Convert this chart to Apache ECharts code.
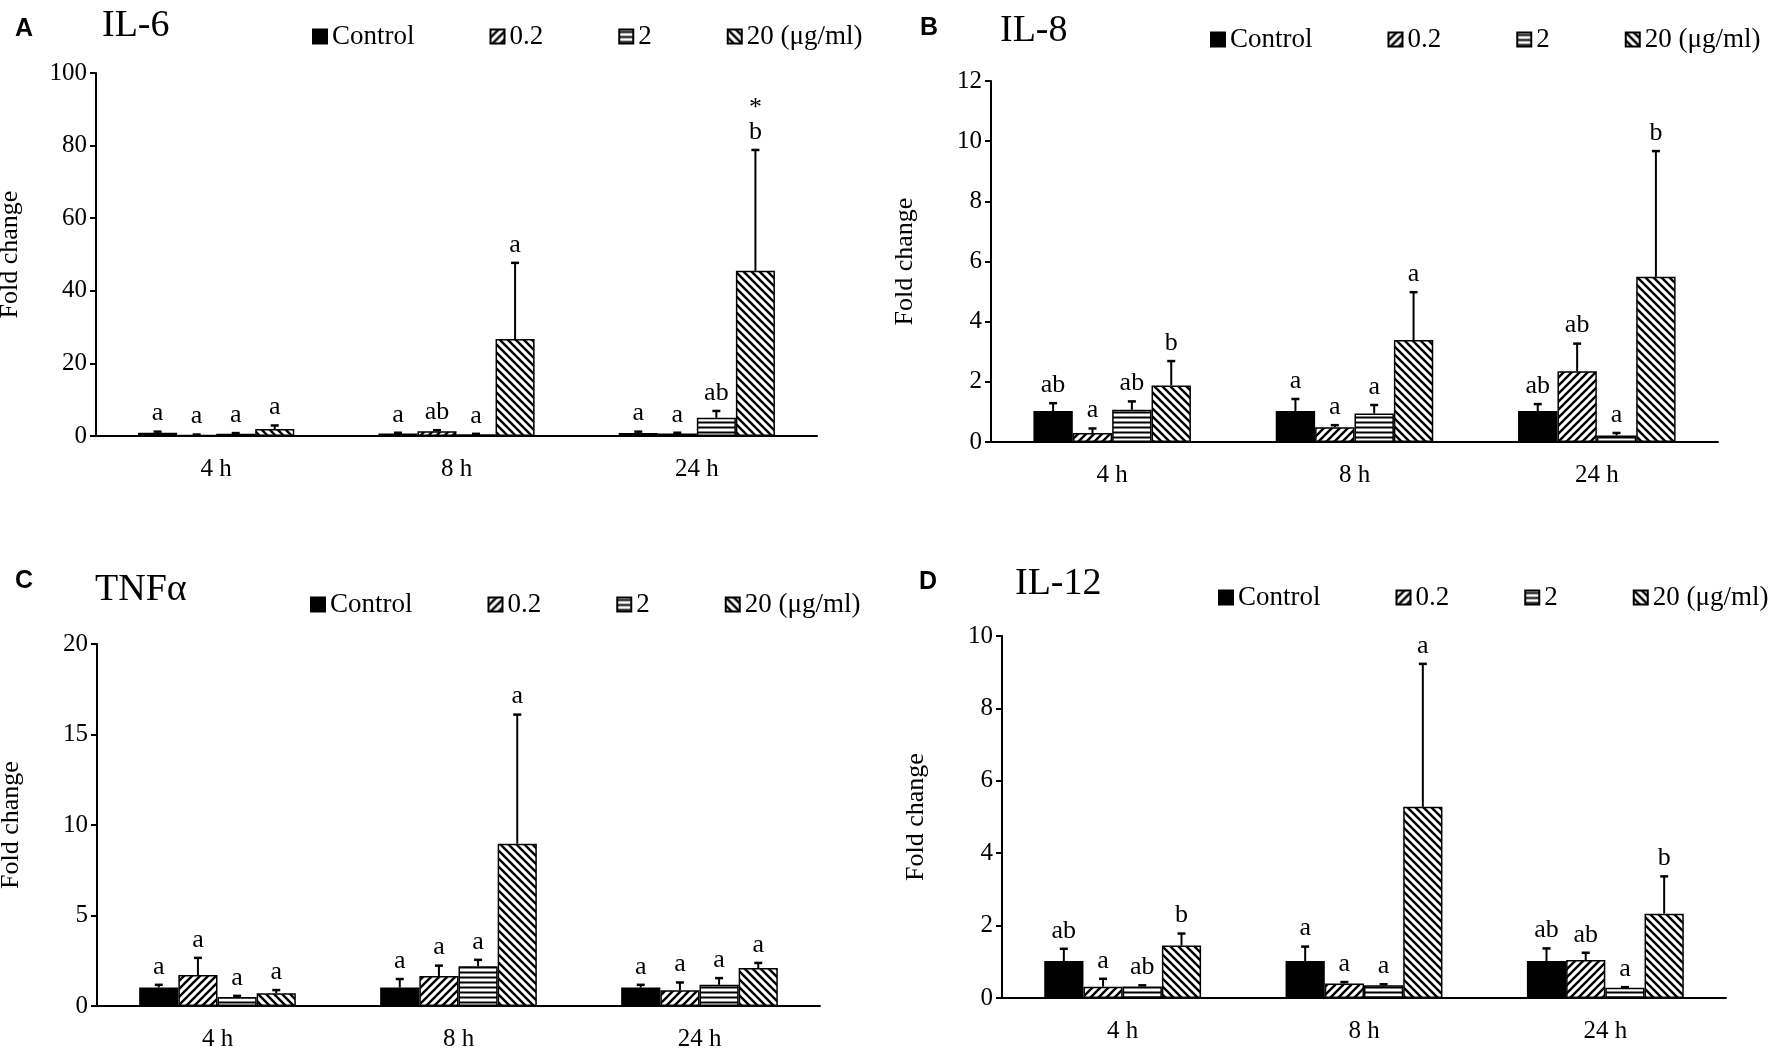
<!DOCTYPE html>
<html>
<head>
<meta charset="utf-8">
<script src="https://cdn.jsdelivr.net/npm/echarts@6/dist/echarts.min.js"></script>
<style>
  html, body { margin: 0; padding: 0; background: #fff; }
  #main { width: 1772px; height: 1052px; }
</style>
</head>
<body>
<div id="main"></div>
<script>
// categories and groups
const hours = ["4 h", "8 h", "24 h"];
const groups = ["Control", "0.2", "2", "20 (μg/ml)"];

// IL-6 : rows = Control, 0.2, 2, 20 ; cols = 4 h, 8 h, 24 h
const il6Means = [[0.9, 0.7, 0.8], [0.3, 1.3, 0.7], [0.6, 0.5, 5.0], [1.9, 26.7, 45.5]];
const il6Sds = [[0.3, 0.2, 0.4], [0.1, 0.3, 0.2], [0.2, 0.1, 1.9], [1.0, 21.0, 33.3]];
const il6Letters = [["a", "a", "a"], ["a", "ab", "a"], ["a", "a", "ab"], ["a", "a", "*\nb"]];

// IL-8
const il8Means = [[1.03, 1.03, 1.03], [0.30, 0.49, 2.35], [1.07, 0.95, 0.22], [1.88, 3.39, 5.49]];
const il8Sds = [[0.26, 0.40, 0.23], [0.15, 0.07, 0.92], [0.28, 0.28, 0.08], [0.81, 1.59, 4.18]];
const il8Letters = [["ab", "a", "ab"], ["a", "a", "ab"], ["ab", "a", "a"], ["b", "a", "b"]];

// TNFα
const tnfMeans = [[1.02, 1.02, 1.02], [1.71, 1.66, 0.87], [0.50, 2.20, 1.17], [0.71, 8.97, 2.10]];
const tnfSds = [[0.15, 0.47, 0.15], [0.95, 0.57, 0.43], [0.06, 0.35, 0.37], [0.17, 7.13, 0.28]];
const tnfLetters = [["a", "a", "a"], ["a", "a", "a"], ["a", "a", "a"], ["a", "a", "a"]];

// IL-12
const il12Means = [[1.02, 1.02, 1.02], [0.31, 0.40, 1.05], [0.32, 0.35, 0.28], [1.45, 5.28, 2.33]];
const il12Sds = [[0.34, 0.40, 0.35], [0.22, 0.04, 0.20], [0.03, 0.03, 0.02], [0.33, 3.95, 1.03]];
const il12Letters = [["ab", "a", "ab"], ["a", "a", "ab"], ["ab", "a", "a"], ["b", "a", "b"]];

const SERIF = '"Liberation Serif", "Times New Roman", serif';
const CAT_GAP = 0.35;

// hatch fills
function makePattern(kind) {
  const s = kind === "h" ? 5 : 8;
  const c = document.createElement("canvas");
  c.width = s;
  c.height = s;
  const g = c.getContext("2d");
  g.fillStyle = "#fff";
  g.fillRect(0, 0, s, s);
  g.strokeStyle = "#000";
  g.lineWidth = kind === "h" ? 2 : 2.4;
  g.beginPath();
  if (kind === "h") {
    g.moveTo(0, s / 2);
    g.lineTo(s, s / 2);
  } else if (kind === "f") {
    g.moveTo(0, s); g.lineTo(s, 0);
    g.moveTo(-2, 2); g.lineTo(2, -2);
    g.moveTo(s - 2, s + 2); g.lineTo(s + 2, s - 2);
  } else {
    g.moveTo(0, 0); g.lineTo(s, s);
    g.moveTo(-2, s - 2); g.lineTo(2, s + 2);
    g.moveTo(s - 2, -2); g.lineTo(s + 2, 2);
  }
  g.stroke();
  return { image: c, repeat: "repeat" };
}

const fills = ["#000", makePattern("f"), makePattern("h"), makePattern("b")];

const panels = [
  { tag: "A", name: "IL-6", means: il6Means, sds: il6Sds, letters: il6Letters, max: 100, step: 20,
    grid: { left: 96, top: 73, width: 721, height: 363 }, legend: [312, 23], tagPos: [15, 29], namePos: [102, 26] },
  { tag: "B", name: "IL-8", means: il8Means, sds: il8Sds, letters: il8Letters, max: 12, step: 2,
    grid: { left: 991, top: 81, width: 727, height: 361 }, legend: [1210, 26], tagPos: [920, 28], namePos: [1000, 31] },
  { tag: "C", name: "TNFα", means: tnfMeans, sds: tnfSds, letters: tnfLetters, max: 20, step: 5,
    grid: { left: 97, top: 644, width: 723, height: 362 }, legend: [310, 591], tagPos: [15, 581], namePos: [95, 590] },
  { tag: "D", name: "IL-12", means: il12Means, sds: il12Sds, letters: il12Letters, max: 10, step: 2,
    grid: { left: 1002, top: 636, width: 724, height: 362 }, legend: [1218, 584], tagPos: [919, 582], namePos: [1015, 584] },
];

function errorRenderer(letters) {
  return function (params, api) {
    const cat = api.value(0);
    const s = api.value(1);
    const mean = api.value(2);
    const top = api.value(3);
    const band = api.size([1, 0])[0];
    const group = band * (1 - CAT_GAP);
    const barW = group / 4;
    const base = api.coord([cat, mean]);
    const cx = base[0] - group / 2 + (s + 0.5) * barW;
    const yTop = api.coord([cat, top])[1];
    const text = letters[s][cat];
    return {
      type: "group",
      children: [
        { type: "line", shape: { x1: cx, y1: base[1], x2: cx, y2: yTop }, style: { stroke: "#000", lineWidth: 2 } },
        { type: "line", shape: { x1: cx - 4, y1: yTop, x2: cx + 4, y2: yTop }, style: { stroke: "#000", lineWidth: 2.5 } },
        { type: "text", x: cx, y: yTop - 6,
          style: { text: text, font: "26px " + SERIF, fill: "#000", align: "center", verticalAlign: "bottom", lineHeight: 24 } },
      ],
    };
  };
}

const grids = [], xAxes = [], yAxes = [], legends = [], series = [], graphics = [];

panels.forEach((p, i) => {
  grids.push(Object.assign({ containLabel: false, outerBoundsMode: "none" }, p.grid));
  xAxes.push({
    type: "category",
    gridIndex: i,
    data: hours,
    axisLine: { lineStyle: { color: "#000", width: 2 } },
    axisTick: { length: 8, lineStyle: { color: "#000", width: 2 } },
    axisLabel: { color: "#000", fontFamily: SERIF, fontSize: 25, margin: 21 },
  });
  yAxes.push({
    type: "value",
    gridIndex: i,
    min: 0,
    max: p.max,
    interval: p.step,
    name: "Fold change",
    nameLocation: "middle",
    nameRotate: 90,
    nameGap: 73,
    nameTextStyle: { color: "#000", fontFamily: SERIF, fontSize: 26 },
    splitLine: { show: false },
    axisLine: { show: true, lineStyle: { color: "#000", width: 2 } },
    axisTick: { show: true, length: 6, lineStyle: { color: "#000", width: 2 } },
    axisLabel: { color: "#000", fontFamily: SERIF, fontSize: 25, margin: 9 },
  });
  legends.push({
    data: groups,
    left: p.legend[0],
    top: p.legend[1],
    padding: 0,
    itemGap: 75,
    itemWidth: 14,
    itemHeight: 14,
    icon: "rect",
    selectedMode: false,
    textStyle: { color: "#000", fontFamily: SERIF, fontSize: 27 },
  });
  groups.forEach((g, s) => {
    series.push({
      name: g,
      type: "bar",
      xAxisIndex: i,
      yAxisIndex: i,
      data: p.means[s],
      barGap: "0%",
      barCategoryGap: CAT_GAP * 100 + "%",
      itemStyle: { color: fills[s], borderColor: "#000", borderWidth: 1.5 },
      emphasis: { disabled: true },
      animation: false,
    });
  });
  const errData = [];
  groups.forEach((g, s) => {
    hours.forEach((h, c) => {
      errData.push([c, s, p.means[s][c], p.means[s][c] + p.sds[s][c]]);
    });
  });
  series.push({
    name: p.name + " error",
    type: "custom",
    xAxisIndex: i,
    yAxisIndex: i,
    data: errData,
    encode: { x: 0, y: 3 },
    renderItem: errorRenderer(p.letters),
    clip: false,
    z: 5,
    animation: false,
  });
  graphics.push({
    type: "text", x: p.tagPos[0], y: p.tagPos[1],
    style: { text: p.tag, font: 'bold 25px "Liberation Sans", Arial, sans-serif', fill: "#000", verticalAlign: "middle" },
  });
  graphics.push({
    type: "text", x: p.namePos[0], y: p.namePos[1],
    style: { text: p.name, font: "38px " + SERIF, fill: "#000", verticalAlign: "middle" },
  });
});

const chart = echarts.init(document.getElementById("main"));
chart.setOption({
  backgroundColor: "#fff",
  animation: false,
  grid: grids,
  xAxis: xAxes,
  yAxis: yAxes,
  legend: legends,
  series: series,
  graphic: graphics,
});
</script>
</body>
</html>
